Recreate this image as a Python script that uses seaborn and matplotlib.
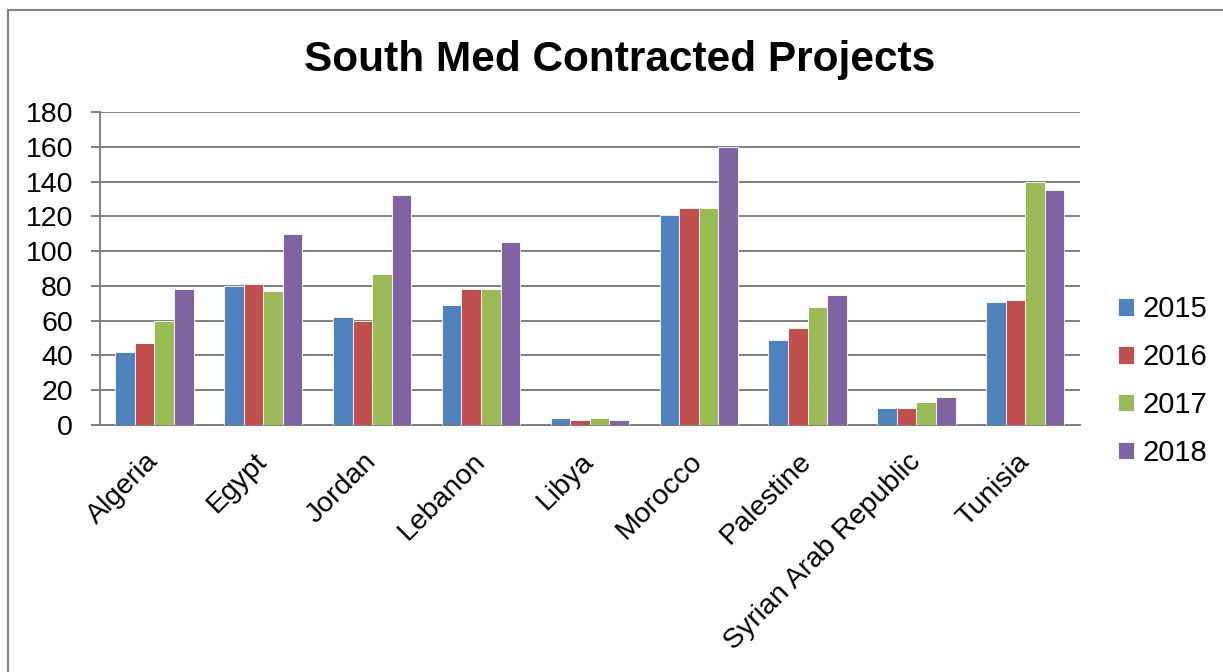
import pandas as pd
import seaborn as sns
import matplotlib.pyplot as plt
from matplotlib.patches import Rectangle

# Data
countries = ['Algeria', 'Egypt', 'Jordan', 'Lebanon', 'Libya', 'Morocco',
             'Palestine', 'Syrian Arab Republic', 'Tunisia']
years = ['2015', '2016', '2017', '2018']
v2015 = [42, 80, 62, 69, 4, 121, 49, 10, 71]
v2016 = [47, 81, 60, 78, 3, 125, 56, 10, 72]
v2017 = [60, 77, 87, 78, 4, 125, 68, 13, 140]
v2018 = [78, 110, 132, 105, 3, 160, 75, 16, 135]
colors = ['#4F81BD', '#C0504D', '#9BBB59', '#8064A2']

# long format for seaborn
df = pd.DataFrame({'country': countries * 4,
                   'year': [y for y in years for _ in countries],
                   'value': v2015 + v2016 + v2017 + v2018})

sns.set_theme(style='white')
plt.rcParams['font.family'] = ['Liberation Sans', 'DejaVu Sans']
plt.rcParams['text.color'] = 'black'

fig = plt.figure(figsize=(12.23, 6.72), dpi=100)
ax = fig.add_axes([0.0818, 0.3676, 0.801, 0.4657])

sns.barplot(data=df, x='country', y='value', hue='year', palette=colors,
            saturation=1, width=0.72, edgecolor='white', linewidth=0.6,
            ax=ax, zorder=3)

# axes styling like the excel chart
ax.set_ylim(0, 180)
ax.set_yticks(range(0, 181, 20))
ax.set_xlim(-0.5, len(countries) - 0.5)
ax.yaxis.grid(True, color='#7f7f7f', linewidth=1.4, zorder=0)
ax.set_axisbelow(True)
for s in ['top', 'right']:
    ax.spines[s].set_visible(False)
for s in ['left', 'bottom']:
    ax.spines[s].set_color('#7f7f7f')
    ax.spines[s].set_linewidth(1.4)
ax.tick_params(axis='y', which='major', left=True, length=6.5, width=1.4,
               color='#7f7f7f', pad=13, labelsize=20.5, labelcolor='black')
ax.tick_params(axis='x', bottom=False, labelsize=20.5, labelcolor='black', pad=4)
ax.set_xlabel('')
ax.set_ylabel('')
plt.setp(ax.get_xticklabels(), rotation=45, ha='right', va='center',
         rotation_mode='anchor')
for lab in ax.get_xticklabels():
    lab.set_y(-0.06)

ax.legend(loc='center left', bbox_to_anchor=(0.8925, 0.433), bbox_transform=fig.transFigure,
          frameon=False, fontsize=21, handlelength=0.55, handleheight=0.55,
          handletextpad=0.3, labelspacing=0.68)

fig.suptitle('South Med Contracted Projects', x=0.507, y=0.94,
             fontsize=30.5, fontweight='bold', color='black')

# outer chart border
fig.patches.append(Rectangle((8 / 1223, -0.1), 1.2, 1.1 - 10 / 672,
                             transform=fig.transFigure, fill=False,
                             edgecolor='#868686', linewidth=1.5))

fig.savefig('out.png', dpi=100)
